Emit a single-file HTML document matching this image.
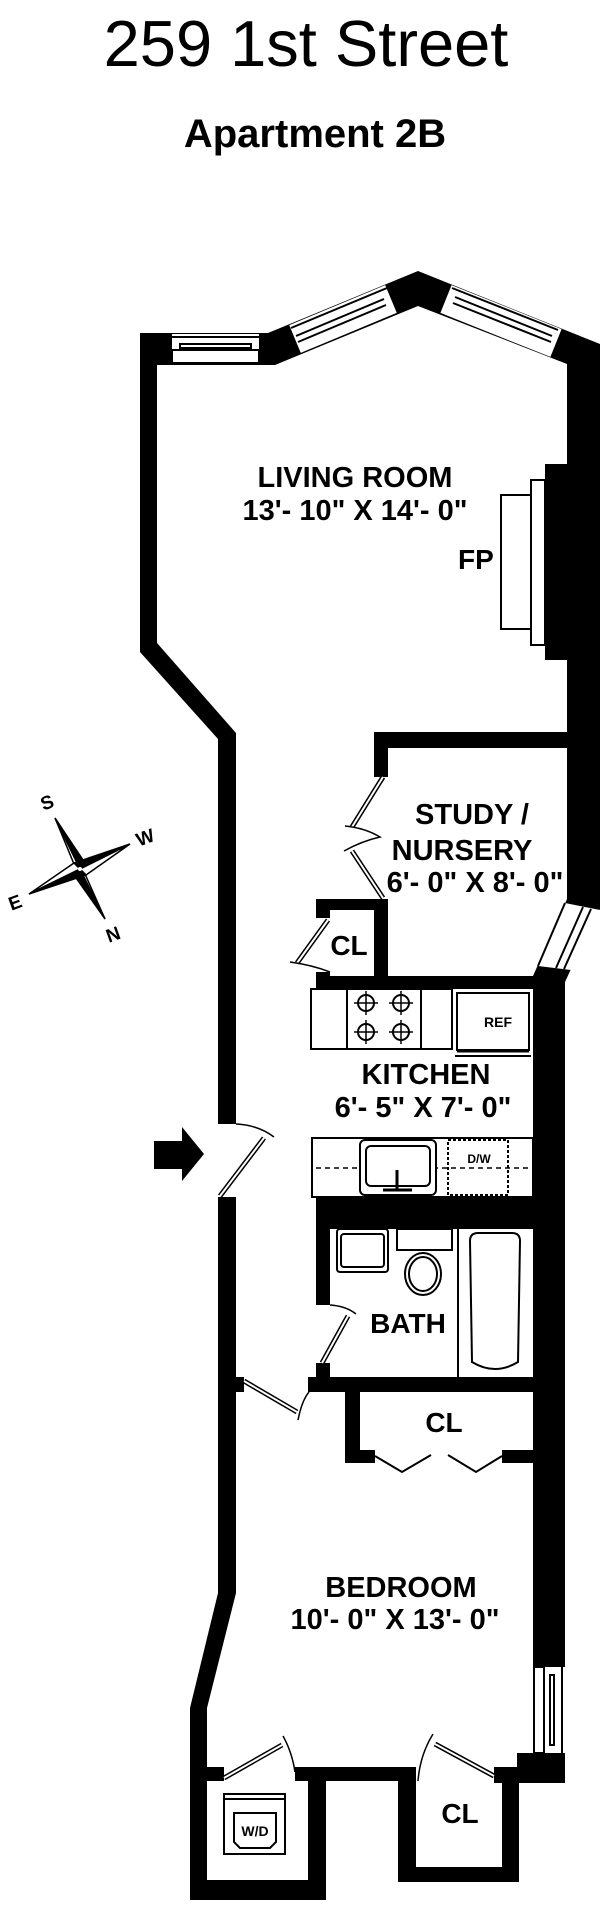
<!DOCTYPE html>
<html><head><meta charset="utf-8"><style>
html,body{margin:0;padding:0;background:#fff;}
svg{display:block;}
text{font-family:"Liberation Sans",Arial,sans-serif;font-weight:bold;fill:#000;}
</style></head><body>
<svg width="600" height="1913" viewBox="0 0 600 1913" xmlns="http://www.w3.org/2000/svg">
<text x="306" y="66" font-size="65" text-anchor="middle" style="font-weight:normal">259 1st Street</text>
<text x="315" y="147" font-size="40" text-anchor="middle">Apartment 2B</text>

<g fill="#000">
<polygon points="140,333 268,333 418,271 600,344 600,910 567,905 567,364 418,306 275,365 157,365 157,643 236,733 236,1124 218,1124 218,739 140,652"/>
<polygon points="567,899 600,906 565,982 533,976"/>
<rect x="533" y="976" width="32" height="807"/>
<rect x="517" y="1753" width="48" height="30"/>
<polygon points="218,1197 236,1197 236,1593 207,1708 207,1900 190,1900 190,1708 218,1593"/>
<rect x="545" y="464" width="22" height="196"/>
<rect x="374" y="732" width="193" height="16"/>
<rect x="374" y="732" width="14" height="45"/>
<rect x="374" y="899" width="14" height="77"/>
<rect x="316" y="899" width="72" height="11"/>
<rect x="316" y="899" width="14" height="19"/>
<rect x="316" y="972" width="14" height="17"/>
<rect x="316" y="976" width="217" height="13"/>
<rect x="316" y="1197" width="217" height="32"/>
<rect x="316" y="1229" width="14" height="76"/>
<rect x="316" y="1363" width="14" height="14"/>
<rect x="308" y="1377" width="225" height="15"/>
<rect x="236" y="1377" width="8" height="15"/>
<rect x="345" y="1392" width="15" height="71"/>
<rect x="345" y="1450" width="30" height="13"/>
<rect x="502" y="1450" width="31" height="13"/>
<rect x="207" y="1767" width="17" height="14"/>
<rect x="295" y="1767" width="121" height="14"/>
<rect x="308" y="1767" width="18" height="133"/>
<rect x="398" y="1767" width="18" height="115"/>
<rect x="190" y="1880" width="136" height="20"/>
<rect x="398" y="1867" width="121" height="15"/>
<rect x="502" y="1767" width="17" height="115"/>
<rect x="494" y="1767" width="71" height="16"/>
</g>

<!-- windows -->
<g stroke="#000" stroke-width="2" fill="#fff">
<rect x="172" y="334" width="87" height="30" stroke="none"/>
<line x1="172" y1="337" x2="259" y2="337"/>
<rect x="180" y="344" width="71" height="4"/>
<rect x="172" y="350" width="87" height="13"/>
<line x1="295" y1="339" x2="391" y2="299" stroke="#fff" stroke-width="30"/>
<line x1="291" y1="328" x2="387" y2="288"/>
<line x1="296" y1="336" x2="384" y2="299"/>
<line x1="298" y1="342" x2="386" y2="305"/>
<line x1="446" y1="299" x2="556" y2="343" stroke="#fff" stroke-width="30"/>
<line x1="452" y1="288" x2="558" y2="330"/>
<line x1="455" y1="297" x2="552" y2="336"/>
<line x1="453" y1="303" x2="551" y2="342"/>
<polygon points="565,903 600,910 571,970 538,966" stroke="none"/>
<line x1="565" y1="903" x2="538" y2="966"/>
<line x1="583" y1="907" x2="556" y2="968"/>
<line x1="591" y1="909" x2="564" y2="969"/>
<rect x="533" y="1667" width="32" height="86" stroke="none"/>
<rect x="534" y="1667" width="10" height="86"/>
<rect x="550" y="1675" width="4" height="70"/>
<line x1="562" y1="1667" x2="562" y2="1753"/>
<!-- fireplace -->
<rect x="531" y="480" width="14" height="165"/>
<rect x="501" y="495" width="30" height="134"/>
</g>

<!-- doors -->
<g stroke="#000" fill="none" stroke-width="1.5">
<line x1="220" y1="1196" x2="264" y2="1138" stroke-width="5"/>
<line x1="220" y1="1196" x2="264" y2="1138" stroke="#fff" stroke-width="2"/>
<path d="M236,1124 Q258,1125 274,1137"/>
<line x1="383" y1="777" x2="352" y2="827" stroke-width="5"/>
<line x1="383" y1="777" x2="352" y2="827" stroke="#fff" stroke-width="2"/>
<line x1="352" y1="851" x2="383" y2="898" stroke-width="5"/>
<line x1="352" y1="851" x2="383" y2="898" stroke="#fff" stroke-width="2"/>
<path d="M345,826 Q365,828 380,837 Q362,841 344,851"/>
<line x1="328" y1="920" x2="297" y2="963" stroke-width="5"/>
<line x1="328" y1="920" x2="297" y2="963" stroke="#fff" stroke-width="2"/>
<path d="M290,962 Q312,965 330,972"/>
<line x1="348" y1="1316" x2="322" y2="1363" stroke-width="5"/>
<line x1="348" y1="1316" x2="322" y2="1363" stroke="#fff" stroke-width="2"/>
<path d="M330,1305 Q346,1306 356,1314"/>
<line x1="244" y1="1381" x2="297" y2="1412" stroke-width="5"/>
<line x1="244" y1="1381" x2="297" y2="1412" stroke="#fff" stroke-width="2"/>
<path d="M298,1420 Q302,1400 309,1392"/>
<path d="M375,1456 L402,1472 L431,1455" stroke-width="2"/>
<path d="M448,1455 L476,1472 L502,1456" stroke-width="2"/>
<line x1="224" y1="1778" x2="282" y2="1745" stroke-width="5"/>
<line x1="224" y1="1778" x2="282" y2="1745" stroke="#fff" stroke-width="2"/>
<path d="M283,1736 Q292,1752 295,1772"/>
<line x1="435" y1="1744" x2="494" y2="1776" stroke-width="5"/>
<line x1="435" y1="1744" x2="494" y2="1776" stroke="#fff" stroke-width="2"/>
<path d="M433,1734 Q420,1755 418,1781"/>
</g>

<!-- kitchen -->
<g stroke="#000" stroke-width="2" fill="#fff">
<rect x="311" y="989" width="141" height="60"/>
<line x1="347" y1="989" x2="347" y2="1049"/>
<line x1="421" y1="989" x2="421" y2="1049"/>
<rect x="457" y="993" width="72" height="57"/>
<line x1="457" y1="1051" x2="529" y2="1051" stroke-width="3"/>
<line x1="455" y1="1056" x2="531" y2="1056"/>
<rect x="312" y="1138" width="221" height="59"/>
<rect x="448" y="1140" width="60" height="55" stroke-dasharray="3,2"/>
<line x1="316" y1="1168" x2="531" y2="1168" stroke-dasharray="5,4" stroke-width="1.5"/>
<rect x="360" y="1140" width="76" height="55" rx="5"/>
<rect x="366" y="1146" width="64" height="40" rx="5"/>
<line x1="397" y1="1170" x2="397" y2="1190" stroke-width="3"/>
<line x1="383" y1="1190" x2="412" y2="1190" stroke-width="3"/>
<!-- bath -->
<rect x="337" y="1229" width="51" height="43" rx="3"/>
<rect x="341" y="1234" width="43" height="33" rx="3"/>
<rect x="397" y="1229" width="55" height="21"/>
<ellipse cx="423" cy="1274" rx="18" ry="21"/>
<ellipse cx="423" cy="1274" rx="14" ry="17"/>
<line x1="458" y1="1229" x2="458" y2="1377"/>
<path d="M470,1241 Q470,1233 478,1233 L512,1233 Q520,1233 520,1241 L518,1362 Q495,1376 472,1362 Z"/>
<!-- W/D -->
<rect x="224" y="1794" width="61" height="60"/>
<line x1="224" y1="1799" x2="285" y2="1799"/>
<path d="M234,1813 L276,1813 L276,1842 L270,1848 L240,1848 L234,1842 Z"/>
</g>
<g fill="none" stroke="#000" stroke-width="2">
<circle cx="366" cy="1003" r="8"/><circle cx="401" cy="1003" r="8"/>
<circle cx="366" cy="1032" r="8"/><circle cx="401" cy="1032" r="8"/>
<path d="M354,1003h24M366,991v24M389,1003h24M401,991v24M354,1032h24M366,1020v24M389,1032h24M401,1020v24" stroke-width="1.5"/>
</g>

<!-- arrow -->
<polygon points="154,1141 182,1141 182,1127 204,1154 182,1181 182,1169 154,1169" fill="#000"/>

<!-- compass -->
<g stroke="#000" stroke-width="1.5" fill="#fff">
<polygon points="55,818 85,864 80,869 74,864"/>
<polygon points="55,818 85,863 80,869" fill="#000"/>
<polygon points="105,919 85,874 80,869 74,864"/>
<polygon points="105,919 74,875 80,869" fill="#000"/>
<polygon points="130,844 80,869 86,875"/>
<polygon points="130,844 80,869 74,863" fill="#000"/>
<polygon points="29,894 80,869 74,863"/>
<polygon points="29,894 80,869 86,875" fill="#000"/>
<circle cx="80" cy="869" r="2" fill="#fff" stroke="none"/>
</g>
<g font-size="19">
<text x="47" y="809" text-anchor="middle" transform="rotate(-20 47 802)">S</text>
<text x="145" y="844" text-anchor="middle" transform="rotate(-20 145 837)">W</text>
<text x="15" y="909" text-anchor="middle" transform="rotate(-20 15 902)">E</text>
<text x="113" y="941" text-anchor="middle" transform="rotate(-20 113 934)">N</text>
</g>

<!-- labels -->
<g font-size="29" text-anchor="middle">
<text x="355" y="487">LIVING ROOM</text>
<text x="355" y="520">13'- 10" X 14'- 0"</text>
<text x="472" y="824">STUDY /</text>
<text x="462" y="860">NURSERY</text>
<text x="475" y="892">6'- 0" X 8'- 0"</text>
<text x="426" y="1084">KITCHEN</text>
<text x="423" y="1117">6'- 5" X 7'- 0"</text>
<text x="401" y="1597">BEDROOM</text>
<text x="395" y="1629">10'- 0" X 13'- 0"</text>
</g>
<text x="458" y="569" font-size="28">FP</text>
<text x="349" y="955" font-size="28" text-anchor="middle">CL</text>
<text x="408" y="1333" font-size="28" text-anchor="middle">BATH</text>
<text x="444" y="1432" font-size="28" text-anchor="middle">CL</text>
<text x="460" y="1823" font-size="28" text-anchor="middle">CL</text>
<text x="498" y="1027" font-size="14" text-anchor="middle">REF</text>
<text x="479" y="1163" font-size="12" text-anchor="middle">D/W</text>
<text x="255" y="1836" font-size="14" text-anchor="middle">W/D</text>
</svg>
</body></html>
